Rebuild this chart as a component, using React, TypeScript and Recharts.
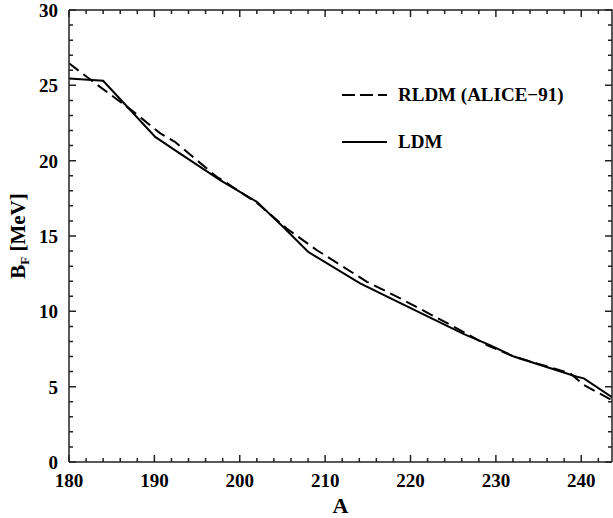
import { LineChart, Line, XAxis, YAxis } from "recharts";

// LDM (solid)
const ldmA = [180, 184, 190.1, 192.4, 197.7, 202, 205.1, 208, 214.1, 219, 226.2, 229.3, 232.1, 239.5, 240.3, 243.6];
const ldmB = [25.46, 25.3, 21.58, 20.7, 18.71, 17.27, 15.6, 13.95, 11.85, 10.5, 8.5, 7.76, 7.0, 5.66, 5.55, 4.3];

// RLDM (ALICE-91) (dashed)
const rldmA = [180, 183.4, 187.3, 190.7, 192.4, 197.3, 198.3, 202, 205.5, 209, 214.9, 218.8, 225.8, 229, 232.1, 238.7, 240.3, 243.6];
const rldmB = [26.46, 25.0, 23.36, 21.81, 21.25, 18.93, 18.58, 17.2, 15.5, 14.07, 11.96, 10.86, 8.76, 7.75, 7.0, 5.89, 5.11, 4.1];

const xMax = 243.6;
const xTicks = [180, 182, 184, 186, 188, 190, 192, 194, 196, 198, 200, 202, 204, 206, 208, 210, 212, 214, 216, 218, 220, 222, 224, 226, 228, 230, 232, 234, 236, 238, 240, 242];
const yTicks = [0, 1, 2, 3, 4, 5, 6, 7, 8, 9, 10, 11, 12, 13, 14, 15, 16, 17, 18, 19, 20, 21, 22, 23, 24, 25, 26, 27, 28, 29, 30];

const ldm = ldmA.map((a, i) => ({ A: a, B: ldmB[i] }));
const rldm = rldmA.map((a, i) => ({ A: a, B: rldmB[i] }));

const FONT = "'Liberation Serif', 'Times New Roman', serif";
const AXIS = "#222";

// plot box that follows from the chart margins and axis sizes below
const W = 613;
const H = 518;
const M = { top: 10, right: 1 };
const YW = 69;
const XH = 56;
const PLOT_TOP = M.top;
const PLOT_RIGHT = W - M.right;

// bottom tick: inward mark at bottom and mirrored one at the top, label for majors
const BottomTick = (props: any) => {
  const { x, y, payload } = props;
  const v = payload.value;
  const major = v % 10 === 0;
  const len = major ? 7 : 4;
  return (
    <g>
      <path d={`M${x},${y}V${y - len}M${x},${PLOT_TOP}V${PLOT_TOP + len}`} stroke={AXIS} strokeWidth={1.5} fill="none" />
      {major && (
        <text x={x} y={y + 25} textAnchor="middle" fontFamily={FONT} fontWeight="bold" fontSize={19} fill="#000">
          {v}
        </text>
      )}
    </g>
  );
};

// left tick: inward mark at left and mirrored one at the right, label for majors
const LeftTick = (props: any) => {
  const { x, y, payload } = props;
  const v = payload.value;
  const major = v % 5 === 0;
  const len = major ? 7 : 4;
  return (
    <g>
      <path d={`M${x},${y}H${x + len}M${PLOT_RIGHT},${y}H${PLOT_RIGHT - len}`} stroke={AXIS} strokeWidth={1.5} fill="none" />
      {major && (
        <text x={x - 11} y={y + 7} textAnchor="end" fontFamily={FONT} fontWeight="bold" fontSize={19} fill="#000">
          {v}
        </text>
      )}
    </g>
  );
};

const LegendRow = ({ dash, label, top }: { dash?: string; label: string; top: number }) => (
  <div style={{ position: "absolute", left: 342, top: top - 12, height: 24, display: "flex", alignItems: "center", whiteSpace: "nowrap" }}>
    <svg width={45} height={24}>
      <line x1={0} y1={12} x2={45} y2={12} stroke="#000" strokeWidth={2} strokeDasharray={dash} />
    </svg>
    <span style={{ marginLeft: 11, fontFamily: FONT, fontWeight: "bold", fontSize: 19, color: "#000" }}>{label}</span>
  </div>
);

export default function App() {
  return (
    <div style={{ position: "absolute", left: 0, top: 0, width: W, height: H, background: "#fff" }}>
      <LineChart width={W} height={H} margin={{ top: M.top, right: M.right, bottom: 0, left: 0 }}>
        <XAxis
          dataKey="A"
          type="number"
          domain={[180, xMax]}
          allowDataOverflow
          ticks={xTicks}
          interval={0}
          height={XH}
          tickSize={0}
          tickMargin={0}
          tickLine={false}
          tick={<BottomTick />}
          stroke={AXIS}
          strokeWidth={1.5}
        />
        <YAxis
          type="number"
          domain={[0, 30]}
          allowDataOverflow
          ticks={yTicks}
          interval={0}
          width={YW}
          tickSize={0}
          tickMargin={0}
          tickLine={false}
          tick={<LeftTick />}
          stroke={AXIS}
          strokeWidth={1.5}
        />
        <Line
          data={rldm}
          dataKey="B"
          type="linear"
          stroke="#000"
          strokeWidth={2}
          strokeDasharray="12 6"
          dot={false}
          isAnimationActive={false}
        />
        <Line
          data={ldm}
          dataKey="B"
          type="linear"
          stroke="#000"
          strokeWidth={2}
          dot={false}
          isAnimationActive={false}
        />
      </LineChart>
      <svg width={W} height={H} style={{ position: "absolute", left: 0, top: 0, pointerEvents: "none" }}>
        {/* top and right edges of the frame */}
        <path d={`M${YW},${PLOT_TOP}H${PLOT_RIGHT}V${H - XH}`} stroke={AXIS} strokeWidth={1.5} fill="none" />
        <text x={(YW + PLOT_RIGHT) / 2} y={513} textAnchor="middle" fontFamily={FONT} fontWeight="bold" fontSize={22} fill="#000">
          A
        </text>
        <text x={25} y={236} transform="rotate(-90 25 236)" textAnchor="middle" fontFamily={FONT} fontWeight="bold" fontSize={21} fill="#000">
          B<tspan fontSize={13} dy={4}>F</tspan>
          <tspan dy={-4}> [MeV]</tspan>
        </text>
      </svg>
      <LegendRow dash="13 5" label="RLDM (ALICE−91)" top={95} />
      <LegendRow label="LDM" top={142} />
    </div>
  );
}
